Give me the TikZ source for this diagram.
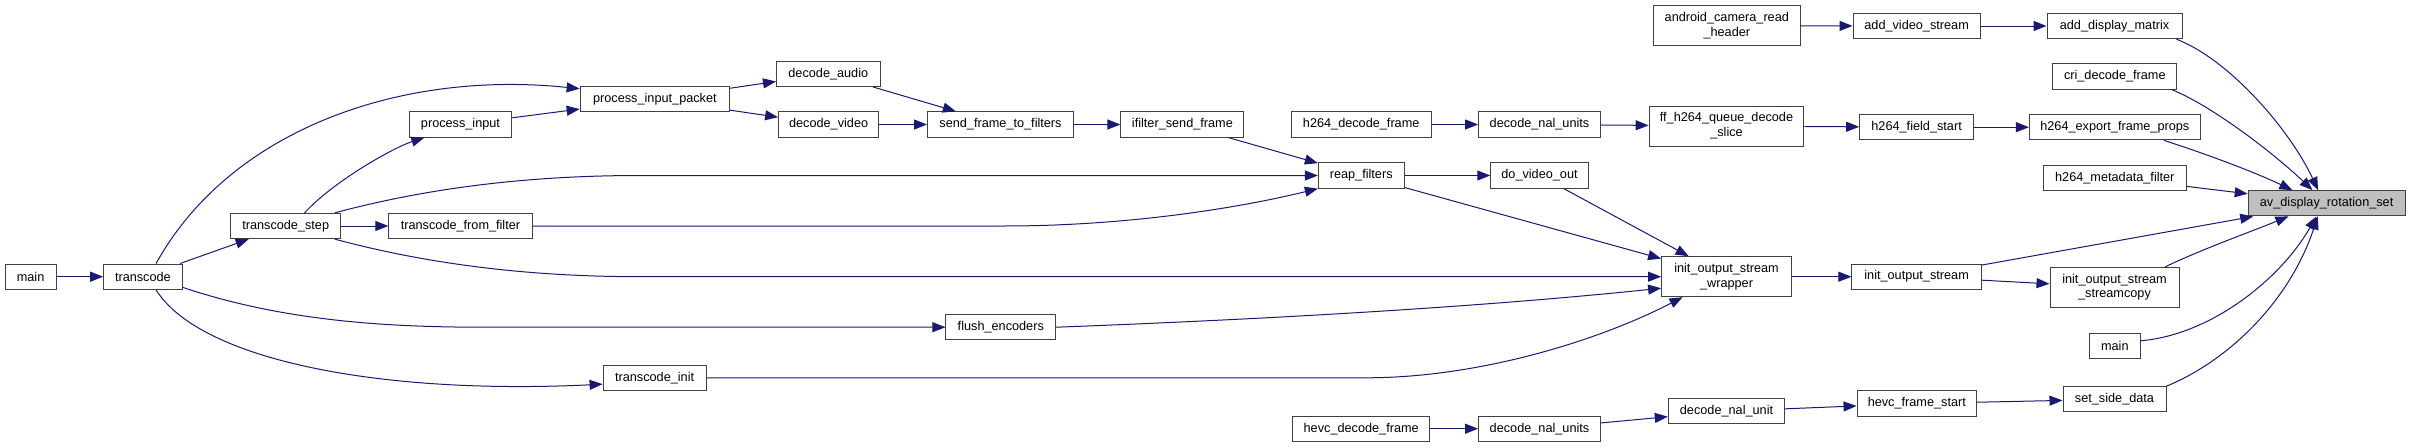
\documentclass[tikz,border=0pt]{standalone}
\usepackage{fontspec}
\setmainfont{Liberation Sans}
\usetikzlibrary{arrows.meta}
\definecolor{edgecol}{HTML}{191970}
\definecolor{boxborder}{HTML}{404040}
\definecolor{hlfill}{HTML}{BFBFBF}
\tikzset{
  box/.style={draw=boxborder, fill=white, line width=1pt, inner sep=0pt,
    minimum height=25.3pt, align=center, text=black,
    font=\fontsize{12.7}{14.7}\selectfont},
  tall/.style={minimum height=40pt},
  hl/.style={fill=hlfill},
  edge/.style={draw=edgecol, line width=1pt, -{Triangle[length=13pt,width=10pt]}},
}
\begin{document}
\begin{tikzpicture}[x=1pt,y=-1pt]
\useasboundingbox[fill=white] (0,0) rectangle (2411,447);
% column 1-2
\node[box, minimum width=51pt] (mainA) at (30.6,276.7) {main};
\node[box, minimum width=78.5pt] (transcode) at (142.9,276.7) {transcode};
\node[box, minimum width=110.2pt] (tstep) at (285.7,226) {transcode\_step};
\node[box, minimum width=143.3pt] (tff) at (460.5,226) {transcode\_from\_filter};
\node[box, minimum width=102.5pt] (pinput) at (460.5,124.5) {process\_input};
\node[box, minimum width=149.5pt] (pip) at (654.9,99.3) {process\_input\_packet};
\node[box, minimum width=103pt] (tinit) at (654.6,377.8) {transcode\_init};
\node[box, minimum width=103.6pt] (daudio) at (828.3,73.8) {decode\_audio};
\node[box, minimum width=100pt] (dvideo) at (828.6,124.5) {decode\_video};
\node[box, minimum width=146pt] (sftf) at (1000.5,124.5) {send\_frame\_to\_filters};
\node[box, minimum width=109.7pt] (flush) at (1000.8,327.2) {flush\_encoders};
\node[box, minimum width=123pt] (ifsf) at (1182.4,124.5) {ifilter\_send\_frame};
\node[box, minimum width=139.8pt] (hdf) at (1361.2,124.5) {h264\_decode\_frame};
\node[box, minimum width=85.7pt] (reap) at (1361.2,175.5) {reap\_filters};
\node[box, minimum width=136.7pt] (hevcdf) at (1361.2,428.7) {hevc\_decode\_frame};
\node[box, minimum width=121.8pt] (dnuA) at (1539.5,124.5) {decode\_nal\_units};
\node[box, minimum width=97.5pt] (dvo) at (1539.5,175.5) {do\_video\_out};
\node[box, minimum width=121.8pt] (dnuB) at (1539.5,428.7) {decode\_nal\_units};
\node[box, tall, minimum width=147pt] (acrh) at (1726.8,25.8) {android\_camera\_read\\\_header};
\node[box, tall, minimum width=154.7pt] (ffq) at (1726.5,126) {ff\_h264\_queue\_decode\\\_slice};
\node[box, tall, minimum width=129.8pt] (wrap) at (1726.5,276.7) {init\_output\_stream\\\_wrapper};
\node[box, minimum width=116.4pt] (dnu) at (1726.5,411.2) {decode\_nal\_unit};
\node[box, minimum width=127.2pt] (avs) at (1916.6,26) {add\_video\_stream};
\node[box, minimum width=113.8pt] (hfs) at (1916.6,127.2) {h264\_field\_start};
\node[box, minimum width=129.3pt] (ios) at (1916.6,276.7) {init\_output\_stream};
\node[box, minimum width=119.5pt] (hfst) at (1916.8,403.5) {hevc\_frame\_start};
\node[box, minimum width=135pt] (adm) at (2114.5,26) {add\_display\_matrix};
\node[box, minimum width=124pt] (cri) at (2114.8,76.5) {cri\_decode\_frame};
\node[box, minimum width=170.7pt] (hefp) at (2114.8,127.2) {h264\_export\_frame\_props};
\node[box, minimum width=142.7pt] (hmf) at (2114.8,177.7) {h264\_metadata\_filter};
\node[box, tall, minimum width=129pt] (iossc) at (2114.5,287.3) {init\_output\_stream\\\_streamcopy};
\node[box, minimum width=50.7pt] (mainB) at (2114.8,345.8) {main};
\node[box, minimum width=103pt] (ssd) at (2114.5,399.3) {set\_side\_data};
\node[box, hl, minimum width=156.8pt] (av) at (2326.6,203.3) {av\_display\_rotation\_set};

% edges
\draw[edge] (mainA) -- (transcode);
\draw[edge] (transcode) -- (tstep);
\draw[edge] (transcode.45) .. controls (230,130) and (400,70) .. (pip.172);
\draw[edge] (transcode.-15) .. controls (280,320) and (380,327) .. (480,327.2) -- (flush.west);
\draw[edge] (transcode.-45) .. controls (200,360) and (380,395) .. (tinit.187);
\draw[edge] (tstep.35) .. controls (335,180) and (395,147) .. (pinput.200);
\draw[edge] (tstep) -- (tff);
\draw[edge] (tstep.15) .. controls (420,190) and (520,175.5) .. (640,175.5) -- (reap.west);
\draw[edge] (tstep.-15) .. controls (420,262) and (520,276.7) .. (640,276.7) -- (wrap.west);
\draw[edge] (tff.east) -- (1004,226) .. controls (1120,226) and (1230,210) .. (reap.south west);
\draw[edge] (tinit.east) -- (1366,377.8) .. controls (1480,377.8) and (1600,340) .. (wrap.205);
\draw[edge] (flush.east) .. controls (1300,318) and (1500,305) .. (wrap.190);
\draw[edge] (pinput) -- (pip);
\draw[edge] (pip) -- (daudio);
\draw[edge] (pip) -- (dvideo);
\draw[edge] (daudio) -- (sftf);
\draw[edge] (dvideo) -- (sftf);
\draw[edge] (sftf) -- (ifsf);
\draw[edge] (ifsf) -- (reap);
\draw[edge] (reap) -- (dvo);
\draw[edge] (reap) -- (wrap);
\draw[edge] (dvo) -- (wrap);
\draw[edge] (hdf) -- (dnuA);
\draw[edge] (dnuA) -- (ffq);
\draw[edge] (ffq) -- (hfs);
\draw[edge] (hfs) -- (hefp);
\draw[edge] (acrh) -- (avs);
\draw[edge] (avs) -- (adm);
\draw[edge] (wrap) -- (ios);
\draw[edge] (ios) -- (iossc);
\draw[edge] (ios) -- (av);
\draw[edge] (hevcdf) -- (dnuB);
\draw[edge] (dnuB) -- (dnu);
\draw[edge] (dnu) -- (hfst);
\draw[edge] (hfst) -- (ssd);
\draw[edge] (adm.-12) .. controls (2230,60) and (2290,130) .. (av.123);
\draw[edge] (cri.-13) .. controls (2210,105) and (2270,150) .. (av.137);
\draw[edge] (hefp.-15) .. controls (2200,152) and (2250,170) .. (av.159);
\draw[edge] (hmf) -- (av);
\draw[edge] (iossc.22) .. controls (2200,250) and (2250,232) .. (av.199);
\draw[edge] (mainB.11) .. controls (2210,335) and (2280,280) .. (av.232);
\draw[edge] (ssd.north east) .. controls (2230,360) and (2290,300) .. (av.236);
\end{tikzpicture}
\end{document}
